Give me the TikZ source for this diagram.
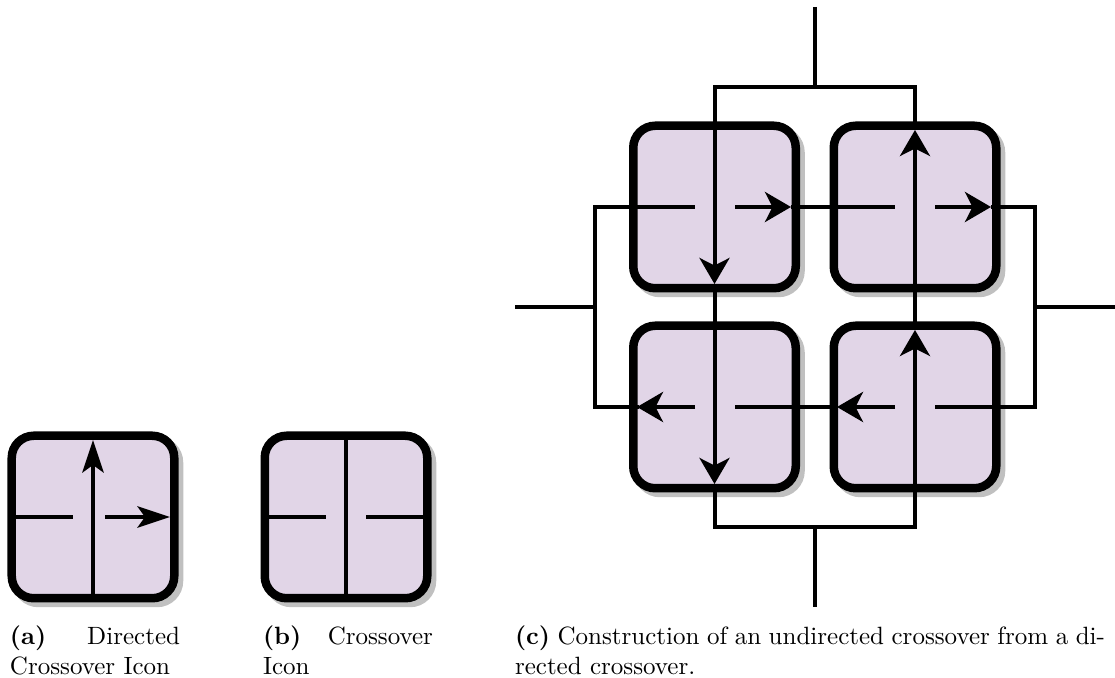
\documentclass[tikz,border=0pt]{standalone}
\usetikzlibrary{arrows.meta,shadows}
\definecolor{boxfill}{HTML}{E1D5E7}
\definecolor{boxshadow}{HTML}{C0C0C0}
\tikzset{
  x=0.4pt,y=-0.4pt,
  xbox/.style={rounded corners=8.8pt,draw=black,line width=3.4pt,fill=boxfill,minimum size=65pt,inner sep=0pt,outer sep=0pt,
    general shadow={shadow xshift=1.9pt,shadow yshift=-1.9pt,fill=boxshadow,draw=boxshadow,line width=3.4pt}},
  wire/.style={line width=1.6pt,draw=black},
  bigarrow/.style={wire,-{Stealth[length=10.4pt,width=12pt,inset=3pt]}},
  slimarrow/.style={wire,-{Stealth[length=13pt,width=8.5pt,inset=3pt]}},
  captext/.style={anchor=north west,inner sep=0pt,outer sep=0pt,align=left,font=\fontsize{10}{12}\selectfont},
}
\begin{document}
\begin{tikzpicture}
\useasboundingbox (0,0) rectangle (1115,678);
% boxes
\node[xbox] (a) at (93,517) {};
\node[xbox] (b) at (346,517) {};
\node[xbox] (c1) at (714.5,207) {};
\node[xbox] (c2) at (915,207) {};
\node[xbox] (c3) at (714.5,407) {};
\node[xbox] (c4) at (915,407) {};
% icon a
\coordinate (aL) at (73,517); \coordinate (aR) at (105,517); \coordinate (aE) at (170,517);
\coordinate (aN) at (93,440);
\draw[wire] (a.west) -- (aL);
\draw[slimarrow] (aR) -- (aE);
\draw[slimarrow] (a.south) -- (aN);
% icon b
\coordinate (bL) at (326,517); \coordinate (bR) at (366,517);
\draw[wire] (b.west) -- (bL);
\draw[wire] (bR) -- (b.east);
\draw[wire] (b.south) -- (b.north);
% construction: junctions
\coordinate (top) at (815,7); \coordinate (topJ) at (815,87);
\coordinate (tl) at (714.5,87); \coordinate (tr) at (915,87);
\coordinate (bot) at (815,607); \coordinate (botJ) at (815,527);
\coordinate (bl) at (714.5,527); \coordinate (br) at (915,527);
\coordinate (lft) at (515,307); \coordinate (lftJ) at (595,307);
\coordinate (lt) at (595,207); \coordinate (lb) at (595,407);
\coordinate (rgt) at (1115,307); \coordinate (rgtJ) at (1035,307);
\coordinate (rt) at (1035,207); \coordinate (rb) at (1035,407);
\coordinate (c1L) at (695,207); \coordinate (c1R) at (735,207); \coordinate (c1E) at (791,207);
\coordinate (c2L) at (895,207); \coordinate (c2R) at (935,207); \coordinate (c2E) at (991,207);
\coordinate (c3L) at (695,407); \coordinate (c3R) at (735,407); \coordinate (c3W) at (637,407);
\coordinate (c4L) at (895,407); \coordinate (c4R) at (935,407); \coordinate (c4W) at (837,407);
\coordinate (c1S) at (714.5,284); \coordinate (c3S) at (714.5,484);
\coordinate (c4N) at (915,330); \coordinate (c2N) at (915,130);
% outer wires
\draw[wire] (top) -- (topJ);
\draw[wire] (bot) -- (botJ);
\draw[wire] (lft) -- (lftJ);
\draw[wire] (rgt) -- (rgtJ);
\draw[wire,line cap=rect] (tl) -- (tr);
\draw[wire,line cap=rect] (bl) -- (br);
% horizontal paths
\draw[wire,line join=miter] (lb) -- (lt) -- (c1L);
\draw[bigarrow] (c1R) -- (c1E);
\draw[wire] (c1E) -- (c2L);
\draw[bigarrow] (c2R) -- (c2E);
\draw[wire] (c2E) -- (rt) -- (rb) -- (c4R);
\draw[bigarrow] (c4L) -- (c4W);
\draw[wire] (c4W) -- (c3R);
\draw[bigarrow] (c3L) -- (c3W);
\draw[wire,line cap=rect] (c3W) -- (lb);
% vertical paths
\draw[bigarrow] (tl) -- (c1S);
\draw[bigarrow] (c1S) -- (c3S);
\draw[wire] (c3S) -- (bl);
\draw[bigarrow] (br) -- (c4N);
\draw[bigarrow] (c4N) -- (c2N);
\draw[wire] (c2N) -- (tr);
% captions
\node[captext] (capa) at (10,626) {\hbox to 68pt{\textbf{(a)} Directed}\\Crossover Icon};
\node[captext] (capb) at (263,626) {\hbox to 68pt{\textbf{(b)} Crossover}\\Icon};
\node[captext] (capc) at (515,626) {\hbox to 236pt{\textbf{(c)} Construction of an undirected crossover from a di-}\\rected crossover.};
\end{tikzpicture}
\end{document}
